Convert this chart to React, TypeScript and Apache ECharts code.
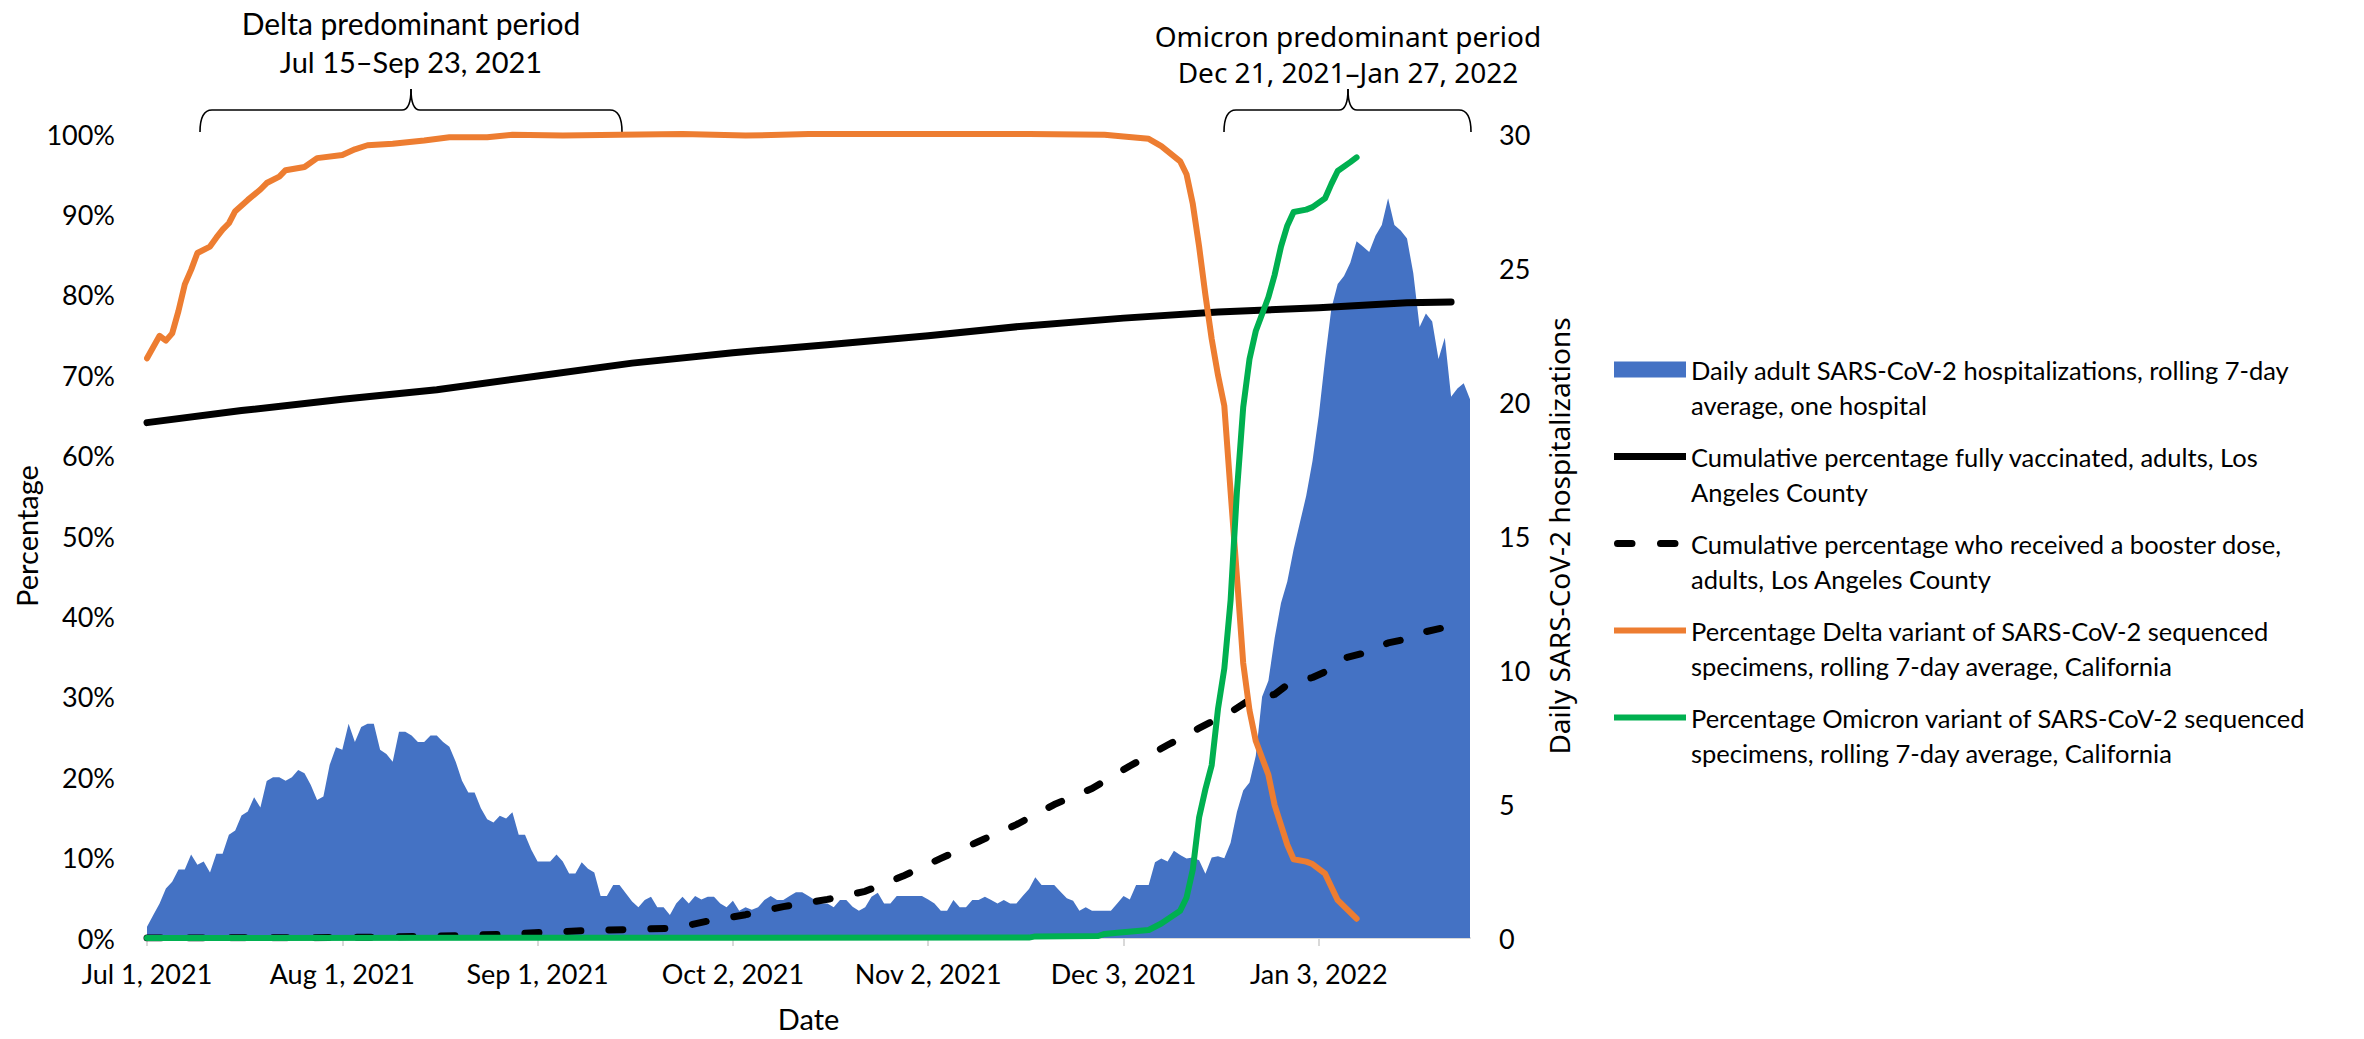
import React, { useEffect, useRef } from 'react';
import * as echarts from 'echarts';

// ---------- data ----------
const START_DATE = '2021-07-01';
const END_DATE = '2022-01-27';
const X_TICK_DATES = ['2021-07-01', '2021-08-01', '2021-09-01', '2021-10-02', '2021-11-02', '2021-12-03', '2022-01-03'];

// Daily adult SARS-CoV-2 hospitalizations, rolling 7-day average (one value per day from START_DATE)
const hospitalizations = [
  0.42, 0.86, 1.29, 1.85, 2.10, 2.56, 2.56, 3.12, 2.73, 2.85,
  2.44, 3.14, 3.14, 3.85, 4.01, 4.57, 4.72, 5.25, 4.87, 5.86,
  6.00, 6.00, 5.87, 6.00, 6.27, 6.15, 5.71, 5.15, 5.28, 6.46,
  7.12, 7.02, 7.99, 7.31, 7.87, 7.99, 7.99, 7.02, 6.87, 6.58,
  7.70, 7.70, 7.56, 7.31, 7.31, 7.56, 7.56, 7.31, 7.14, 6.58,
  5.87, 5.43, 5.43, 4.84, 4.43, 4.31, 4.56, 4.46, 4.69, 3.85,
  3.85, 3.29, 2.85, 2.85, 2.85, 3.12, 2.85, 2.41, 2.41, 2.83,
  2.58, 2.44, 1.57, 1.57, 1.98, 1.98, 1.67, 1.36, 1.15, 1.42,
  1.54, 1.15, 1.15, 0.86, 1.29, 1.54, 1.29, 1.57, 1.44, 1.54,
  1.54, 1.29, 1.15, 1.39, 1.02, 1.15, 1.05, 1.15, 1.42, 1.57,
  1.42, 1.42, 1.57, 1.71, 1.71, 1.57, 1.42, 1.29, 1.29, 1.15,
  1.42, 1.42, 1.17, 1.02, 1.15, 1.54, 1.69, 1.29, 1.29, 1.57,
  1.57, 1.57, 1.57, 1.57, 1.44, 1.29, 1.02, 1.02, 1.42, 1.15,
  1.15, 1.42, 1.42, 1.54, 1.42, 1.29, 1.42, 1.29, 1.29, 1.57,
  1.83, 2.27, 1.98, 1.98, 1.98, 1.73, 1.48, 1.39, 1.02, 1.15,
  1.02, 1.02, 1.02, 1.02, 1.29, 1.57, 1.44, 1.98, 1.98, 1.98,
  2.83, 2.97, 2.85, 3.26, 3.10, 2.97, 3.00, 2.90, 2.40, 3.00,
  3.05, 2.98, 3.55, 4.70, 5.50, 5.80, 6.80, 9.00, 9.60, 11.20,
  12.50, 13.30, 14.50, 15.50, 16.50, 17.80, 19.50, 21.60, 23.50, 24.40,
  24.70, 25.20, 26.00, 25.80, 25.60, 26.20, 26.60, 27.60, 26.60, 26.40,
  26.10, 24.80, 22.80, 23.30, 23.00, 21.60, 22.40, 20.20, 20.50, 20.70,
  20.10,
];

// Cumulative percentage fully vaccinated, adults, LA County
const vaccinated: [string, number][] = [
  ['2021-07-01', 64.1], ['2021-07-16', 65.6], ['2021-08-01', 67.0], ['2021-08-16', 68.2],
  ['2021-09-01', 69.9], ['2021-09-16', 71.5], ['2021-10-02', 72.8], ['2021-10-17', 73.8],
  ['2021-11-02', 74.9], ['2021-11-17', 76.1], ['2021-12-03', 77.1], ['2021-12-18', 77.85],
  ['2022-01-03', 78.4], ['2022-01-17', 79.0], ['2022-01-24', 79.1],
];

// Cumulative percentage who received a booster dose, adults, LA County
const booster: [string, number][] = [
  ['2021-07-01', 0.0], ['2021-07-31', 0.05], ['2021-08-15', 0.2], ['2021-08-26', 0.45],
  ['2021-09-02', 0.7], ['2021-09-08', 0.9], ['2021-09-15', 1.05], ['2021-09-22', 1.2],
  ['2021-09-25', 1.6], ['2021-09-28', 2.1], ['2021-10-04', 2.9], ['2021-10-10', 3.9],
  ['2021-10-17', 4.8], ['2021-10-23', 5.8], ['2021-10-29', 7.7], ['2021-11-04', 9.9],
  ['2021-11-10', 12.0], ['2021-11-16', 14.1], ['2021-11-22', 16.6], ['2021-11-28', 18.6],
  ['2021-12-04', 21.4], ['2021-12-10', 24.0], ['2021-12-15', 26.1], ['2021-12-20', 28.1],
  ['2021-12-23', 29.6], ['2021-12-27', 30.3], ['2021-12-29', 31.5], ['2022-01-02', 32.4],
  ['2022-01-04', 33.1], ['2022-01-07', 34.8], ['2022-01-10', 35.4], ['2022-01-14', 36.7],
  ['2022-01-17', 37.2], ['2022-01-20', 38.1], ['2022-01-24', 38.8],
];

// Percentage Delta variant, rolling 7-day average, California
const delta: [string, number][] = [
  ['2021-07-01', 72.1], ['2021-07-02', 73.5], ['2021-07-03', 74.9], ['2021-07-04', 74.3],
  ['2021-07-05', 75.2], ['2021-07-06', 78.0], ['2021-07-07', 81.3], ['2021-07-08', 83.1],
  ['2021-07-09', 85.2], ['2021-07-11', 86.0], ['2021-07-12', 87.1], ['2021-07-13', 88.1],
  ['2021-07-14', 88.9], ['2021-07-15', 90.4], ['2021-07-17', 91.8], ['2021-07-19', 93.1],
  ['2021-07-20', 93.9], ['2021-07-22', 94.7], ['2021-07-23', 95.5], ['2021-07-26', 95.9],
  ['2021-07-28', 97.0], ['2021-08-01', 97.4], ['2021-08-03', 98.1], ['2021-08-05', 98.6],
  ['2021-08-09', 98.8], ['2021-08-14', 99.2], ['2021-08-18', 99.6], ['2021-08-24', 99.6],
  ['2021-08-28', 99.9], ['2021-09-05', 99.8], ['2021-09-14', 99.9], ['2021-09-24', 100],
  ['2021-10-04', 99.8], ['2021-10-14', 100], ['2021-10-29', 100], ['2021-11-18', 100],
  ['2021-11-30', 99.9], ['2021-12-03', 99.7], ['2021-12-07', 99.4], ['2021-12-09', 98.5],
  ['2021-12-12', 96.6], ['2021-12-13', 95.0], ['2021-12-14', 91.3], ['2021-12-15', 86.0],
  ['2021-12-16', 80.0], ['2021-12-17', 74.5], ['2021-12-18', 70.0], ['2021-12-19', 66.2],
  ['2021-12-20', 55.5], ['2021-12-21', 45.0], ['2021-12-22', 34.2], ['2021-12-23', 28.3],
  ['2021-12-24', 24.5], ['2021-12-26', 20.3], ['2021-12-27', 16.5], ['2021-12-29', 11.6],
  ['2021-12-30', 9.8], ['2022-01-01', 9.5], ['2022-01-02', 9.2], ['2022-01-04', 8.0],
  ['2022-01-06', 4.7], ['2022-01-09', 2.4],
];

// Percentage Omicron variant, rolling 7-day average, California
const omicron: [string, number][] = [
  ['2021-07-01', 0], ['2021-11-18', 0.05], ['2021-11-19', 0.2], ['2021-11-29', 0.25],
  ['2021-11-30', 0.5], ['2021-12-02', 0.65], ['2021-12-07', 1.0], ['2021-12-09', 1.8],
  ['2021-12-12', 3.4], ['2021-12-13', 5.0], ['2021-12-14', 8.5], ['2021-12-15', 15.0],
  ['2021-12-16', 18.5], ['2021-12-17', 21.5], ['2021-12-18', 28.5], ['2021-12-19', 33.5],
  ['2021-12-20', 42.0], ['2021-12-21', 55.5], ['2021-12-22', 66.0], ['2021-12-23', 72.0],
  ['2021-12-24', 75.5], ['2021-12-26', 79.7], ['2021-12-27', 82.5], ['2021-12-28', 86.0],
  ['2021-12-29', 88.6], ['2021-12-30', 90.3], ['2022-01-01', 90.6], ['2022-01-02', 90.9],
  ['2022-01-04', 92.0], ['2022-01-05', 93.8], ['2022-01-06', 95.4], ['2022-01-08', 96.5],
  ['2022-01-09', 97.1],
];

const SERIES_NAMES = [
  'Daily adult SARS-CoV-2 hospitalizations, rolling 7-day average, one hospital',
  'Cumulative percentage fully vaccinated, adults, Los Angeles County',
  'Cumulative percentage who received a booster dose, adults, Los Angeles County',
  'Percentage Delta variant of SARS-CoV-2 sequenced specimens, rolling 7-day average, California',
  'Percentage Omicron variant of SARS-CoV-2 sequenced specimens, rolling 7-day average, California',
];
const LEGEND_LINES = [
  ['Daily adult SARS-CoV-2 hospitalizations, rolling 7-day', 'average, one hospital'],
  ['Cumulative percentage fully vaccinated, adults, Los', 'Angeles County'],
  ['Cumulative percentage who received a booster dose,', 'adults, Los Angeles County'],
  ['Percentage Delta variant of SARS-CoV-2 sequenced', 'specimens, rolling 7-day average, California'],
  ['Percentage Omicron variant of SARS-CoV-2 sequenced', 'specimens, rolling 7-day average, California'],
];
const ANNOTATIONS = [
  ['Delta predominant period', 'Jul 15\u2013Sep 23, 2021'],
  ['Omicron predominant period', 'Dec 21, 2021\u2013Jan 27, 2022'],
];

// ---------- helpers ----------
const DAY = 86400000;
const T0 = Date.parse(START_DATE + 'T00:00:00Z');
const dayIndex = (d: string) => Math.round((Date.parse(d + 'T00:00:00Z') - T0) / DAY);
const MONTHS = ['Jan', 'Feb', 'Mar', 'Apr', 'May', 'Jun', 'Jul', 'Aug', 'Sep', 'Oct', 'Nov', 'Dec'];
const fmtDay = (v: number) => {
  const dt = new Date(T0 + Math.round(v) * DAY);
  return `${MONTHS[dt.getUTCMonth()]} ${dt.getUTCDate()}, ${dt.getUTCFullYear()}`;
};
const toXY = (arr: [string, number][]) => arr.map(([d, v]) => [dayIndex(d), v]);

const BLUE = '#4472C4';
const ORANGE = '#ED7D31';
const GREEN = '#00B050';
const AXIS_GRAY = '#D9D9D9';
const NARROW = 'Lato';
const WIDE = 'Noto Sans';

function brace(xL: number, xM: number, xR: number, yB: number, yH: number, yT: number) {
  const st = { stroke: '#000', lineWidth: 1.6, fill: null as any };
  const r = 12;
  const m = 9;
  return [
    { type: 'bezierCurve', shape: { x1: xL, y1: yB, x2: xL + r, y2: yH, cpx1: xL, cpy1: yH }, style: st },
    { type: 'line', shape: { x1: xL + r, y1: yH, x2: xM - m, y2: yH }, style: st },
    { type: 'bezierCurve', shape: { x1: xM - m, y1: yH, x2: xM, y2: yT, cpx1: xM, cpy1: yH }, style: st },
    { type: 'bezierCurve', shape: { x1: xM, y1: yT, x2: xM + m, y2: yH, cpx1: xM, cpy1: yH }, style: st },
    { type: 'line', shape: { x1: xM + m, y1: yH, x2: xR - r, y2: yH }, style: st },
    { type: 'bezierCurve', shape: { x1: xR - r, y1: yH, x2: xR, y2: yB, cpx1: xR, cpy1: yH }, style: st },
  ];
}

function annText(text: string, x: number, y: number, family: string, size: number) {
  return {
    type: 'text', x, y,
    style: { text, fill: '#000', fontFamily: family, fontSize: size, align: 'center', verticalAlign: 'middle' },
  };
}

const ICON_SOLID7 = 'path://M0,0 M0,4.5 L72,4.5 L72,11.5 L0,11.5 Z M72,16';
const ICON_SOLID6 = 'path://M0,0 M0,5 L72,5 L72,11 L0,11 Z M72,16';
const ICON_DASH = 'path://M0,0 M3.5,4.5 L18,4.5 A3.5,3.5 0 0 1 18,11.5 L3.5,11.5 A3.5,3.5 0 0 1 3.5,4.5 Z M46.5,4.5 L61,4.5 A3.5,3.5 0 0 1 61,11.5 L46.5,11.5 A3.5,3.5 0 0 1 46.5,4.5 Z M72,16';

export default function App() {
  const ref = useRef<HTMLDivElement>(null);
  useEffect(() => {
    document.body.style.margin = '0';
    if (!ref.current) return;
    const chart = echarts.init(ref.current, undefined, { renderer: 'svg' });
    const tickDays = X_TICK_DATES.map(dayIndex);
    const labelStyle = { fontFamily: NARROW, fontSize: 27, color: '#000' };
    const titleStyle = { fontFamily: NARROW, fontSize: 29, color: '#000' };

    const option: any = {
      animation: false,
      backgroundColor: '#fff',
      grid: { left: 147, right: 894, top: 134, bottom: 101, containLabel: false, outerBoundsMode: 'none' },
      xAxis: {
        type: 'value', min: 0, max: dayIndex(END_DATE), interval: 31,
        axisLine: { show: true, onZero: false, lineStyle: { color: AXIS_GRAY, width: 2 } },
        axisTick: { show: true, length: 8, lineStyle: { color: AXIS_GRAY, width: 2 }, customValues: tickDays },
        axisLabel: { ...labelStyle, customValues: tickDays, formatter: (v: number) => fmtDay(v), margin: 22 },
        splitLine: { show: false },
        name: 'Date', nameLocation: 'middle', nameGap: 66, nameMoveOverlap: false,
        nameTextStyle: { ...titleStyle },
      },
      yAxis: [
        {
          type: 'value', min: 0, max: 100, interval: 10, position: 'left',
          axisLine: { show: false }, axisTick: { show: false }, splitLine: { show: false },
          axisLabel: { ...labelStyle, formatter: '{value}%', margin: 32 },
          name: 'Percentage', nameLocation: 'middle', nameGap: 106, nameMoveOverlap: false,
          nameTextStyle: { ...titleStyle },
        },
        {
          type: 'value', min: 0, max: 30, interval: 5, position: 'right',
          axisLine: { show: false }, axisTick: { show: false }, splitLine: { show: false },
          axisLabel: { ...labelStyle, margin: 29 },
          name: 'Daily SARS-CoV-2 hospitalizations', nameLocation: 'middle', nameGap: 75, nameMoveOverlap: false,
          nameTextStyle: { fontFamily: WIDE, fontSize: 28, color: '#000' },
        },
      ],
      legend: {
        orient: 'vertical', left: 1609, top: 312, padding: 5,
        itemWidth: 72, itemHeight: 16, itemGap: -18, selectedMode: false,
        itemStyle: { borderWidth: 0 },
        // leading empty line keeps the first text line level with the icon
        formatter: (name: string) => '\n' + LEGEND_LINES[SERIES_NAMES.indexOf(name)].join('\n'),
        textStyle: { fontFamily: NARROW, fontSize: 25.5, lineHeight: 35, color: '#000' },
        data: [
          { name: SERIES_NAMES[0], icon: 'rect' },
          { name: SERIES_NAMES[1], icon: ICON_SOLID7 },
          { name: SERIES_NAMES[2], icon: ICON_DASH },
          { name: SERIES_NAMES[3], icon: ICON_SOLID6 },
          { name: SERIES_NAMES[4], icon: ICON_SOLID6 },
        ],
      },
      graphic: [
        annText(ANNOTATIONS[0][0], 411, 23, NARROW, 30),
        annText(ANNOTATIONS[0][1], 411, 61, NARROW, 29),
        annText(ANNOTATIONS[1][0], 1348, 36, WIDE, 28),
        annText(ANNOTATIONS[1][1], 1348, 72, WIDE, 28),
        ...brace(200, 411, 622, 132, 110, 89),
        ...brace(1224, 1348, 1471, 132, 110, 89),
      ],
      series: [
        {
          name: SERIES_NAMES[0], type: 'line', yAxisIndex: 1,
          data: hospitalizations.map((v, i) => [i, v]),
          symbol: 'none', showSymbol: false,
          lineStyle: { width: 0, color: BLUE }, itemStyle: { color: BLUE },
          areaStyle: { color: BLUE, opacity: 1 }, z: 1,
        },
        {
          name: SERIES_NAMES[1], type: 'line', yAxisIndex: 0, data: toXY(vaccinated),
          symbol: 'none', showSymbol: false, itemStyle: { color: '#000' },
          lineStyle: { color: '#000', width: 7, cap: 'round', join: 'round' }, z: 3,
        },
        {
          name: SERIES_NAMES[2], type: 'line', yAxisIndex: 0, data: toXY(booster),
          symbol: 'none', showSymbol: false, itemStyle: { color: '#000' },
          lineStyle: { color: '#000', width: 7, type: [14, 28], cap: 'round', join: 'round' }, z: 3,
        },
        {
          name: SERIES_NAMES[3], type: 'line', yAxisIndex: 0, data: toXY(delta),
          symbol: 'none', showSymbol: false, itemStyle: { color: ORANGE },
          lineStyle: { color: ORANGE, width: 6, cap: 'round', join: 'round' }, z: 4,
        },
        {
          name: SERIES_NAMES[4], type: 'line', yAxisIndex: 0, data: toXY(omicron),
          symbol: 'none', showSymbol: false, itemStyle: { color: GREEN },
          lineStyle: { color: GREEN, width: 6, cap: 'round', join: 'round' }, z: 5,
        },
      ],
    };
    chart.setOption(option);
    return () => chart.dispose();
  }, []);
  return <div ref={ref} style={{ width: 2364, height: 1039 }} />;
}
